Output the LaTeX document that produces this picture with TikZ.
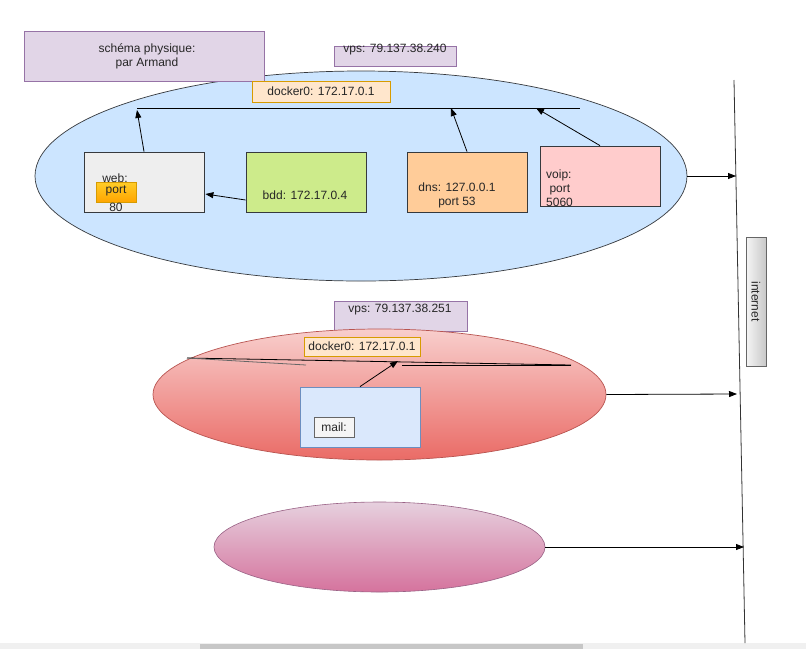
\documentclass[tikz,border=0pt]{standalone}
\usepackage{fontspec}
\setmainfont{Liberation Sans}
\usetikzlibrary{shapes.geometric,arrows.meta,calc}
\definecolor{purpF}{HTML}{E1D5E7}\definecolor{purpD}{HTML}{9673A6}
\definecolor{orF}{HTML}{FFE6CC}\definecolor{orD}{HTML}{D79B00}
\definecolor{blueF}{HTML}{CCE5FF}\definecolor{darkS}{HTML}{36393D}
\definecolor{webF}{HTML}{EEEEEE}\definecolor{bddF}{HTML}{CDEB8B}
\definecolor{dnsF}{HTML}{FFCC99}\definecolor{voipF}{HTML}{FFCCCC}
\definecolor{portT}{HTML}{FFCD28}\definecolor{portB}{HTML}{FFA500}
\definecolor{redT}{HTML}{F8CECC}\definecolor{redB}{HTML}{EA6B66}\definecolor{redD}{HTML}{B85450}
\definecolor{pinkT}{HTML}{E6D0DE}\definecolor{pinkB}{HTML}{D5739D}\definecolor{pinkD}{HTML}{996185}
\definecolor{mailF}{HTML}{DAE8FC}\definecolor{mailD}{HTML}{6C8EBF}
\definecolor{grayT}{HTML}{F5F5F5}\definecolor{grayB}{HTML}{C8C8C8}\definecolor{grayD}{HTML}{666666}
\begin{document}
\begin{tikzpicture}[x=1pt,y=-1pt,
  txt/.style={font=\fontsize{12}{14}\selectfont, inner sep=0pt, text=black!85},
  box/.style={draw, rectangle, inner sep=0pt, line width=0.8pt},
  conn/.style={-{Triangle[length=8pt,width=6pt]}, line width=0.8pt, black},
  plain/.style={line width=0.8pt, black}]
\useasboundingbox (0,0) rectangle (806,649);
\fill[white] (0,0) rectangle (806,649);
% scrollbar
\fill[black!6] (0,643) rectangle (806,649);
\fill[black!22] (200,644) rectangle (583,649);

% internet line
\coordinate (inetTop) at (734,80);
\coordinate (inetBot) at (745,643);
\draw[line width=0.8pt, black!80] (inetTop) -- (inetBot);
\node[box, draw=grayD, top color=grayT, bottom color=grayB, shading angle=90, minimum width=20pt, minimum height=129pt] (inetbox) at (756,301.5) {};
\node[txt, rotate=-90] (inettxt) at (756,301.5) {internet};

% top ellipse
\node[ellipse, draw=darkS, fill=blueF, line width=0.7pt, minimum width=652pt, minimum height=210pt, inner sep=0pt] (ell1) at (361,176) {};
\node[box, draw=purpD, fill=purpF, minimum width=240pt, minimum height=50pt] (title) at (144,56) {};
\node[txt, align=center] (titletxt) at (147,56) {schéma physique:\\par Armand};
\node[box, draw=purpD, fill=purpF, minimum width=122pt, minimum height=20pt] (vps1) at (395,56) {};
\node[txt] (vps1txt) at (395,50) {vps: 79.137.38.240};
\node[box, draw=orD, fill=orF, minimum width=138pt, minimum height=21pt] (dock1) at (321,91.5) {};
\node[txt] (dock1txt) at (dock1) {docker0: 172.17.0.1};
\coordinate (busL) at (137,108);
\coordinate (busR) at (580,108);
\draw[plain] (busL) -- (busR);

\node[box, draw=darkS, fill=webF, minimum width=120pt, minimum height=60pt] (web) at (144,182) {};
\node[txt] (webtxt) at (115,178) {web:};
\node[box, draw=orD, top color=portT, bottom color=portB, minimum width=40pt, minimum height=20pt] (port) at (116,192) {};
\node[txt] (porttxt) at (116,191) {port};
\node[txt] (port80) at (116,207) {80};

\node[box, draw=darkS, fill=bddF, minimum width=120pt, minimum height=60pt] (bdd) at (306,182) {};
\node[txt] (bddtxt) at (305,195) {bdd: 172.17.0.4};

\node[box, draw=darkS, fill=dnsF, minimum width=120pt, minimum height=60pt] (dns) at (467,182) {};
\node[txt, align=center] (dnstxt) at (457,195.5) {dns: 127.0.0.1\\port 53};

\node[box, draw=darkS, fill=voipF, minimum width=120pt, minimum height=60pt] (voip) at (600,176) {};
\node[txt, align=left, anchor=west] (voiptxt) at (546,188) {voip:\\\ port\\5060};

\coordinate (busWeb) at (137,110);
\coordinate (busDns) at (451,108);
\coordinate (busVoip) at (536,108);
\draw[conn] (web.north) -- (busWeb);
\draw[conn] ($(bdd.west)+(0,18)$) -- ($(web.east)+(1,12)$);
\draw[conn] (dns.north) -- (busDns);
\draw[conn] (voip.north) -- (busVoip);
\coordinate (t1) at (736,176);
\draw[conn] (ell1.east) -- (t1);

% middle ellipse
\node[box, draw=purpD, fill=purpF, minimum width=133pt, minimum height=30pt] (vps2) at (400.5,316) {};
\node[txt] (vps2txt) at (400,310) {vps: 79.137.38.251};
\node[ellipse, draw=redD, top color=redT, bottom color=redB, line width=0.7pt, minimum width=453pt, minimum height=131pt, inner sep=0pt] (ell2) at (379.5,394.5) {};
\node[box, draw=orD, fill=orF, minimum width=116pt, minimum height=19pt] (dock2) at (362,346.5) {};
\node[txt] (dock2txt) at (dock2) {docker0: 172.17.0.1};
\coordinate (m1) at (187,358);
\coordinate (m2) at (571,365);
\coordinate (m3) at (306,365);
\coordinate (m4) at (402,365);
\draw[line width=0.8pt, black] (m1) -- (m2);
\draw[line width=0.8pt, black!60] (m1) -- (m3);
\draw[line width=1pt, black] (m4) -- (m2);
\node[box, draw=mailD, fill=mailF, minimum width=120pt, minimum height=60pt] (mail) at (360,417) {};
\node[box, draw=grayD, fill=grayT, minimum width=40pt, minimum height=20pt] (mailbox) at (334,427) {};
\node[txt] (mailtxt) at (mailbox) {mail:};
\coordinate (mt) at (398,361);
\draw[conn] (mail.north) -- (mt);
\coordinate (t2) at (737,394);
\draw[conn] (ell2.east) -- (t2);

% bottom ellipse
\node[ellipse, draw=pinkD, top color=pinkT, bottom color=pinkB, line width=0.6pt, minimum width=331pt, minimum height=90pt, inner sep=0pt] (ell3) at (379.5,547) {};
\coordinate (t3) at (744,547);
\draw[conn] (ell3.east) -- (t3);
\end{tikzpicture}
\end{document}
